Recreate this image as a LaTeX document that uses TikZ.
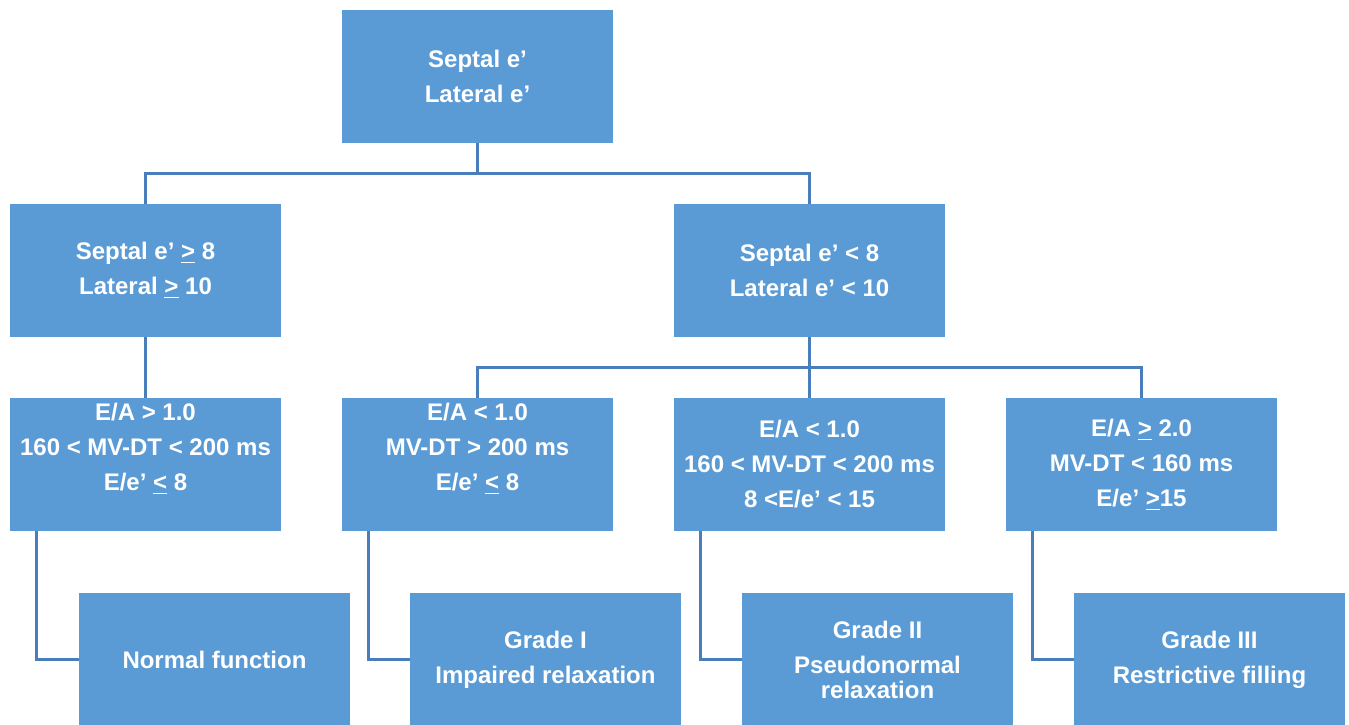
\documentclass[tikz,border=0pt]{standalone}
\usepackage{fontspec}
\setmainfont{Liberation Sans}
\usetikzlibrary{positioning}
\definecolor{boxblue}{HTML}{5B9BD5}
\definecolor{linkblue}{HTML}{4A7EBB}

\begin{document}
\begin{tikzpicture}[
    box/.style={rectangle, fill=boxblue, text=white, font=\fontsize{12}{17.5}\selectfont\bfseries, align=center, minimum width=135.5pt, minimum height=66.5pt, inner sep=0pt, outer sep=0pt},
    link/.style={draw=linkblue, line width=1.5pt}
]
\useasboundingbox (0,0) rectangle (674.5pt,-362pt);

% Criteria
\node[box] (ea1) at (72.75pt,-232.25pt) {E/A > 1.0\\160 < MV-DT < 200 ms\\E/e’ \underline{<} 8\\\mbox{}};
\node[box] (ea2) [right=30.5pt of ea1] {E/A < 1.0\\MV-DT > 200 ms\\E/e’ \underline{<} 8\\\mbox{}};
\node[box] (ea3) [right=30.5pt of ea2] {E/A < 1.0\\160 < MV-DT < 200 ms\\8 <E/e’ < 15};
\node[box] (ea4) [right=30.5pt of ea3] {E/A \underline{>} 2.0\\MV-DT < 160 ms\\E/e’ \underline{>}15};

% Tissue Doppler
\node[box] (sl) [above=30.5pt of ea1] {Septal e’ \underline{>} 8\\Lateral \underline{>} 10};
\node[box] (sr) [above=30.5pt of ea3] {Septal e’ < 8\\Lateral e’ < 10};
\node[box] (top) [above=127.5pt of ea2] {Septal e’\\Lateral e’};

% Grades
\node[box] (res1) [below=31pt of ea1, xshift=34.5pt] {Normal function};
\node[box] (res2) [below=31pt of ea2, xshift=34pt] {Grade I\\Impaired relaxation};
\node[box] (res3) [below=31pt of ea3, xshift=34pt] {Grade II\\Pseudonormal\\[-5pt]relaxation};
\node[box] (res4) [below=31pt of ea4, xshift=34pt] {Grade III\\Restrictive filling};

% Links
\coordinate[below=15.25pt of top] (topjoin);
\coordinate[below=15.25pt of sr] (srjoin);
\draw[link] (top) -- (topjoin);
\draw[link] (topjoin) -| (sl);
\draw[link] (topjoin) -| (sr);
\draw[link] (sl) -- (ea1);
\draw[link] (sr) -- (srjoin);
\draw[link] (srjoin) -| (ea2);
\draw[link] (srjoin) -- (ea3);
\draw[link] (srjoin) -| (ea4);
\foreach \i in {1,...,4}
    \draw[link] ([xshift=13pt]ea\i.south west) |- (res\i);

\end{tikzpicture}
\end{document}
